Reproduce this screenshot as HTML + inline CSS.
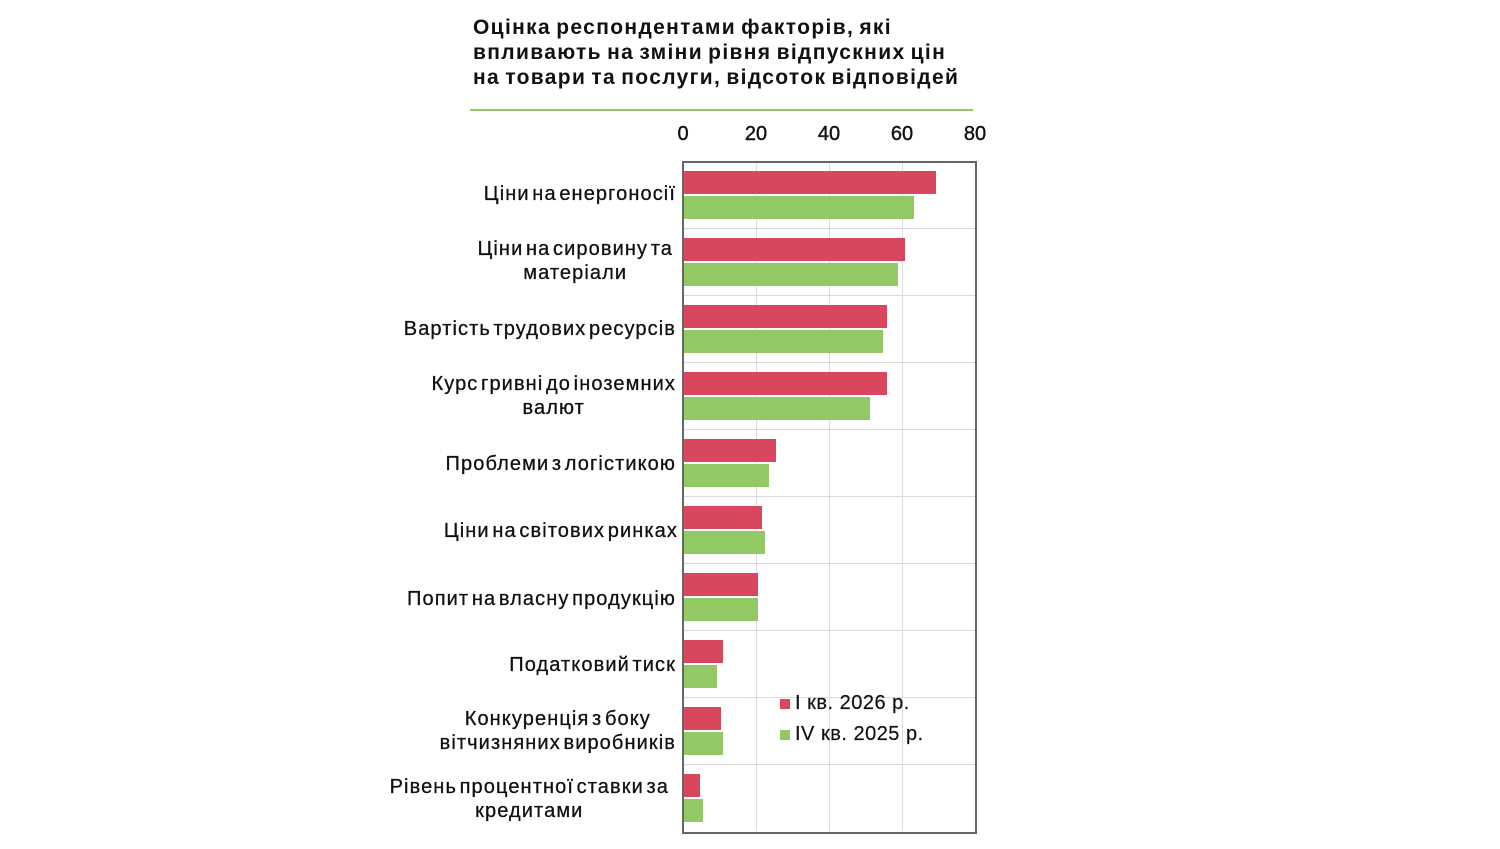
<!DOCTYPE html>
<html><head><meta charset="utf-8"><style>
body{margin:0;width:1500px;height:849px;background:#fff;position:relative;overflow:hidden;font-family:"Liberation Sans",sans-serif;color:#111}
.a{position:absolute}
.t{font-weight:bold;font-size:21px;line-height:25px;left:473px;top:15px;letter-spacing:1.35px;word-spacing:-2px}
.tick{font-size:20px;top:123px;width:40px;text-align:center;-webkit-text-stroke:0.4px #111}
.lab{font-size:20px;text-align:right;right:824px;line-height:24px;white-space:nowrap;letter-spacing:1.1px;word-spacing:-4px;-webkit-text-stroke:0.3px #111}
.r{background:#d9475f;height:23px;left:684px}
.g{background:#92c964;height:23px;left:684px}
.vg{top:161px;height:670px;width:1px;background:#dcdcdc}
.hg{left:683px;width:292px;height:1px;background:#dcdcdc}
.lg{font-size:20px;letter-spacing:0.5px;-webkit-text-stroke:0.2px #111}
</style></head><body>
<div class="a t">Оцінка респондентами факторів, які<br>впливають на зміни рівня відпускних цін<br>на товари та послуги, відсоток відповідей</div>
<div class="a" style="left:470px;top:109px;width:503px;height:2px;background:#92c964"></div>
<div class="a tick" style="left:663px">0</div>
<div class="a tick" style="left:736px">20</div>
<div class="a tick" style="left:809px">40</div>
<div class="a tick" style="left:882px">60</div>
<div class="a tick" style="left:955px">80</div>
<div class="a vg" style="left:756px"></div><div class="a vg" style="left:829px"></div><div class="a vg" style="left:902px"></div>
<div class="a hg" style="top:228px"></div><div class="a hg" style="top:295px"></div><div class="a hg" style="top:362px"></div><div class="a hg" style="top:429px"></div><div class="a hg" style="top:496px"></div><div class="a hg" style="top:563px"></div><div class="a hg" style="top:630px"></div><div class="a hg" style="top:697px"></div><div class="a hg" style="top:764px"></div>
<div class="a" style="left:682px;top:161px;width:291px;height:669px;border:2px solid #666"></div>

<div class="a r" style="top:171px;width:252px"></div><div class="a g" style="top:196px;width:230px"></div>
<div class="a r" style="top:238px;width:221px"></div><div class="a g" style="top:263px;width:214px"></div>
<div class="a r" style="top:305px;width:203px"></div><div class="a g" style="top:330px;width:199px"></div>
<div class="a r" style="top:372px;width:203px"></div><div class="a g" style="top:397px;width:186px"></div>
<div class="a r" style="top:439px;width:92px"></div><div class="a g" style="top:464px;width:85px"></div>
<div class="a r" style="top:506px;width:78px"></div><div class="a g" style="top:531px;width:81px"></div>
<div class="a r" style="top:573px;width:74px"></div><div class="a g" style="top:598px;width:74px"></div>
<div class="a r" style="top:640px;width:39px"></div><div class="a g" style="top:665px;width:33px"></div>
<div class="a r" style="top:707px;width:37px"></div><div class="a g" style="top:732px;width:39px"></div>
<div class="a r" style="top:774px;width:16px"></div><div class="a g" style="top:799px;width:19px"></div>

<div class="a lab" style="top:182px">Ціни на енергоносії</div>
<div class="a lab" style="top:237px;right:827px;text-align:center">Ціни на сировину та<br>матеріали</div>
<div class="a lab" style="top:317px">Вартість трудових ресурсів</div>
<div class="a lab" style="top:372px;text-align:center">Курс гривні до іноземних<br>валют</div>
<div class="a lab" style="top:452px">Проблеми з логістикою</div>
<div class="a lab" style="top:519px;right:822px">Ціни на світових ринках</div>
<div class="a lab" style="top:587px">Попит на власну продукцію</div>
<div class="a lab" style="top:653px">Податковий тиск</div>
<div class="a lab" style="top:707px;text-align:center">Конкуренція з боку<br>вітчизняних виробників</div>
<div class="a lab" style="top:775px;right:831px;text-align:center">Рівень процентної ставки за<br>кредитами</div>

<div class="a" style="left:780px;top:699px;width:10px;height:10px;background:#d9475f"></div>
<div class="a lg" style="left:795px;top:692px">I кв. 2026 р.</div>
<div class="a" style="left:780px;top:730px;width:10px;height:10px;background:#92c964"></div>
<div class="a lg" style="left:795px;top:723px">IV кв. 2025 р.</div>
</body></html>
